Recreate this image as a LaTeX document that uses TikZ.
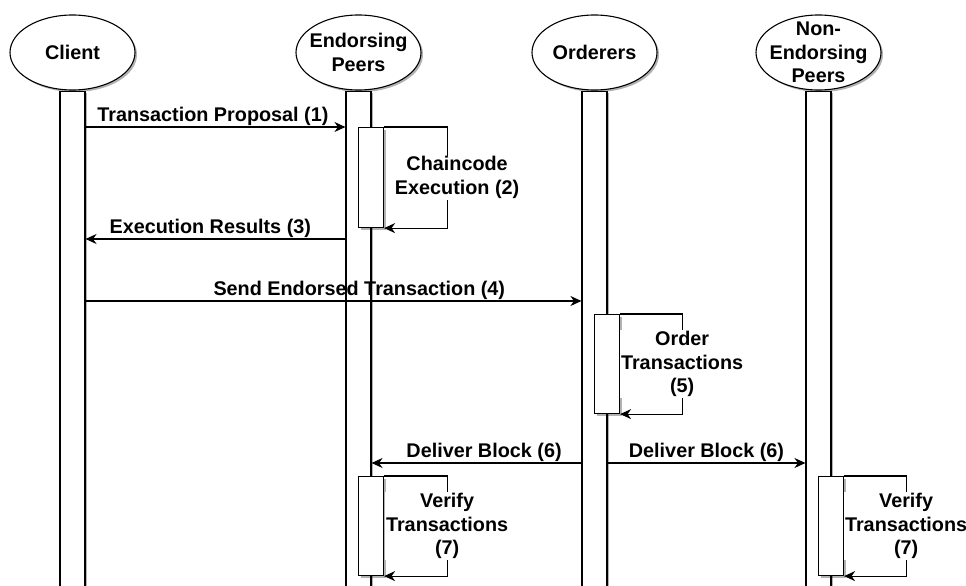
\documentclass[tikz,border=0pt]{standalone}
\usepackage{fontspec}
\setmainfont{Liberation Sans}
\usetikzlibrary{shapes.geometric,arrows.meta,shadows,positioning}

\tikzset{
  softshadow/.style={drop shadow={shadow xshift=2pt, shadow yshift=-2pt, opacity=.3, fill=black}},
  head/.style={draw, ellipse, fill=white, minimum width=125pt, minimum height=75pt, inner sep=0pt, softshadow},
  bar/.style={draw, fill=white, minimum width=25pt, minimum height=496pt, inner sep=0pt, softshadow},
  act/.style={draw, fill=white, minimum width=25pt, inner sep=0pt, anchor=north west, softshadow},
  msg/.style={-{Stealth[length=11pt, width=10pt, inset=3.5pt]}},
  lbl/.style={align=center, inner sep=1pt},
}

\begin{document}
\begin{tikzpicture}[x=1pt, y=-1pt, line width=1.1pt,
    font=\fontsize{19.8}{23.5}\selectfont\bfseries]
  \useasboundingbox (0,0) rectangle (966,586);

  % lifelines
  \node[head, label={[lbl]center:Client}] (cl) at (72.5,52.5) {};
  \node[head, label={[lbl]center:Endorsing\\Peers}] (ep) at (358.5,52.5) {};
  \node[head, label={[lbl]center:Orderers}] (or) at (594.5,52.5) {};
  \node[head, label={[lbl]center:Non-\\Endorsing\\Peers}] (nep) at (818.5,52.5) {};
  \node[bar, below=0pt of cl] (clbar) {};
  \node[bar, below=0pt of ep] (epbar) {};
  \node[bar, below=0pt of or] (orbar) {};
  \node[bar, below=0pt of nep] (nepbar) {};

  % proposal and endorsement
  \coordinate (t1) at (0,127);
  \coordinate (t3) at (0,239);
  \draw[msg] (clbar.east |- t1) -- node[lbl, above, pos=.49] {Transaction Proposal (1)} (epbar.west |- t1);
  \node[act, minimum height=100pt] (ep1) at (358,127) {};
  \draw[msg] (ep1.north east) -- ++(63,0) |- node[lbl, fill=white, pos=.25, xshift=10pt] {Chaincode\\Execution (2)} (ep1.south east);
  \draw[msg] (epbar.west |- t3) -- node[lbl, above, pos=.52] {Execution Results (3)} (clbar.east |- t3);

  % ordering
  \coordinate (t4) at (0,301);
  \draw[msg] (clbar.east |- t4) -- node[lbl, above, pos=.552] {Send Endorsed Transaction (4)} (orbar.west |- t4);
  \node[act, minimum height=99pt] (or1) at (594,314) {};
  \draw[msg] (or1.north east) -- ++(62,0) |- node[lbl, fill=white, pos=.25] {Order\\Transactions\\(5)} (or1.south east);

  % delivery and validation
  \coordinate (t6) at (0,463);
  \draw[msg] (orbar.west |- t6) -- node[lbl, above, pos=.464] {Deliver Block (6)} (epbar.east |- t6);
  \draw[msg] (orbar.east |- t6) -- node[lbl, above, pos=.5] {Deliver Block (6)} (nepbar.west |- t6);
  \node[act, minimum height=99pt] (ep2) at (358,476) {};
  \draw[msg] (ep2.north east) -- ++(63,0) |- node[lbl, fill=white, pos=.25] {Verify\\Transactions\\(7)} (ep2.south east);
  \node[act, minimum height=99pt] (nep1) at (818,476) {};
  \draw[msg] (nep1.north east) -- ++(62,0) |- node[lbl, fill=white, pos=.25] {Verify\\Transactions\\(7)} (nep1.south east);
\end{tikzpicture}
\end{document}
